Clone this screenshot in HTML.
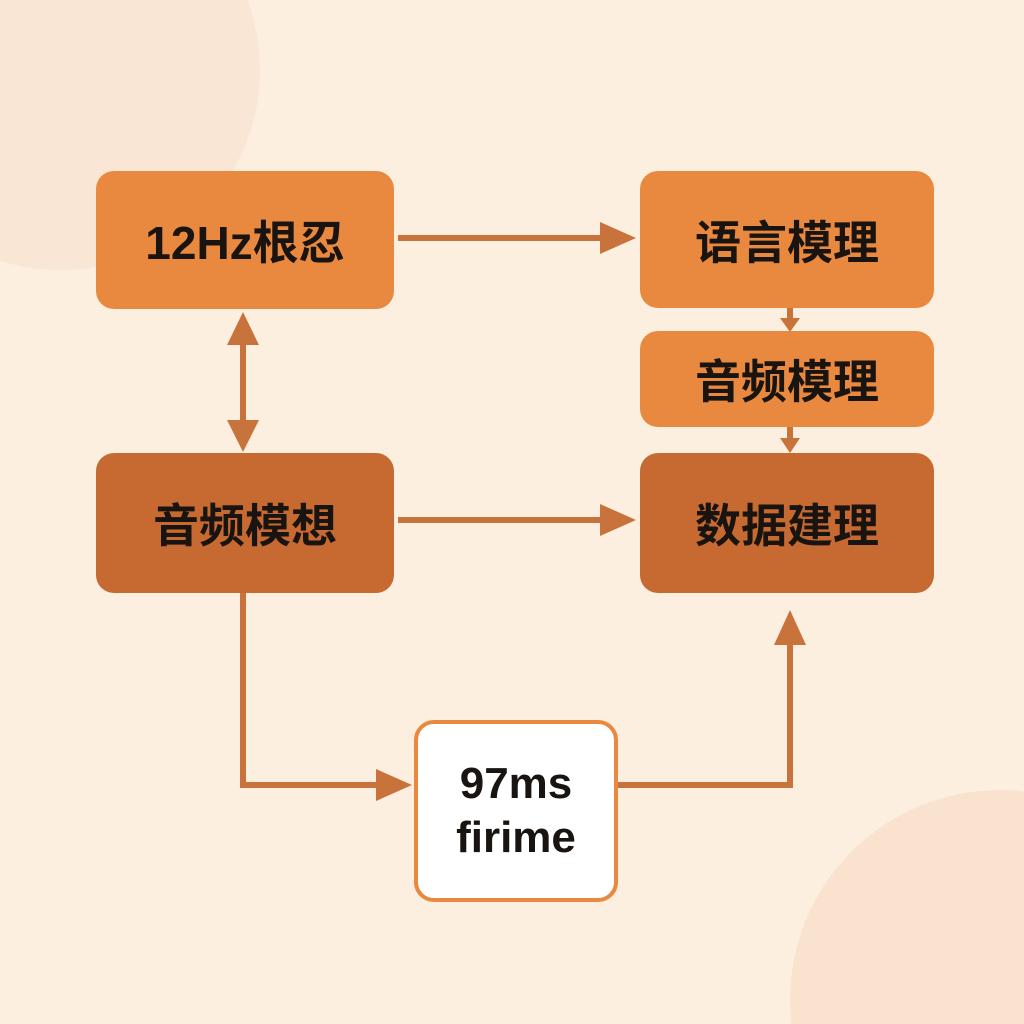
<!DOCTYPE html>
<html><head><meta charset="utf-8"><style>
html,body{margin:0;width:1024px;height:1024px;overflow:hidden}
body{background:#fcefdf;position:relative;font-family:"Liberation Sans","Noto Sans CJK SC",sans-serif}
.b{position:absolute;border-radius:18px;display:flex;align-items:center;justify-content:center;font-weight:bold;color:#1a1410;font-size:46px;font-family:"Liberation Sans","Noto Sans CJK SC",sans-serif}
.l{background:#e9893f}.d{background:#c76a31}
svg{position:absolute;left:0;top:0;display:block;overflow:hidden}
</style></head><body>
<svg width="1024" height="1024" viewBox="0 0 1024 1024">
<path d="M0,0 L247.3,0 A200,200 0 0 1 0,260.8 Z" fill="#f9e6d4"/>
<path d="M791.4,1024 A210,210 0 0 1 1024,791.4 L1024,1024 Z" fill="#f9e3cf"/>
<g stroke="#c8733b" stroke-width="6" fill="none">
<line x1="398" y1="238" x2="605" y2="238"/>
<line x1="398" y1="520" x2="605" y2="520"/>
<line x1="243" y1="340" x2="243" y2="425"/>
<polyline points="243,593 243,785 380,785"/>
<polyline points="616,785 790,785 790,640"/>
<line x1="790" y1="308" x2="790" y2="320"/>
<line x1="790" y1="427" x2="790" y2="440"/>
</g>
<g fill="#c8733b">
<polygon points="600,222 636,238 600,254"/>
<polygon points="600,504 636,520 600,536"/>
<polygon points="227,345 243,312 259,345"/>
<polygon points="227,420 243,452 259,420"/>
<polygon points="376,769 412,785 376,801"/>
<polygon points="774,645 790,610 806,645"/>
<polygon points="780,318 800,318 790,332"/>
<polygon points="780,438 800,438 790,453"/>
</g>
</svg>
<div class="b l" style="left:96px;top:171px;width:298px;height:138px">12Hz根忍</div>
<div class="b d" style="left:96px;top:453px;width:298px;height:140px">音频模想</div>
<div class="b l" style="left:640px;top:171px;width:294px;height:137px">语言模理</div>
<div class="b l" style="left:640px;top:331px;width:294px;height:96px">音频模理</div>
<div class="b d" style="left:640px;top:453px;width:294px;height:140px">数据建理</div>
<div class="b" style="left:414px;top:720px;width:196px;height:174px;background:#fff;border:4px solid #e9893f;border-radius:20px;font-size:44px;line-height:54px;text-align:center;font-family:'Liberation Sans',sans-serif">97ms<br>firime</div>
</body></html>
